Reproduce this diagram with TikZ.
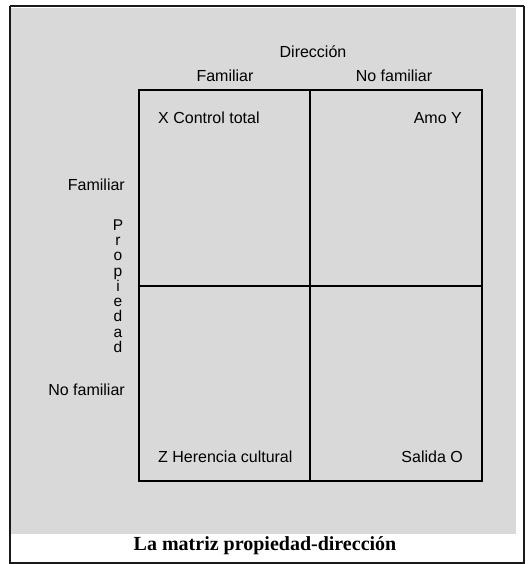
\documentclass[tikz,border=0pt]{standalone}
\usepackage{fontspec}
\setmainfont{Liberation Serif}
\setsansfont{Liberation Sans}
\usepackage{xcolor}
\usetikzlibrary{positioning}

\definecolor{pagegray}{RGB}{217,217,217}

\begin{document}
\begin{tikzpicture}[
  x=1pt, y=-1pt,
  font=\sffamily\fontsize{16}{18}\selectfont,
  grid/.style={draw=black, line width=1.4pt},
  frame/.style={draw=black!90, line width=1.8pt},
  lbl/.style={inner sep=0pt, text=black},
  cell/.style={lbl},
  caption/.style={inner sep=0pt, font=\rmfamily\bfseries\fontsize{20}{22}\selectfont}
]
  \useasboundingbox (0,0) rectangle (527,564);

  %% page
  \fill[pagegray] (11,8) rectangle (516,534);
  \draw[frame] (10,6) -- (10,563) -- (524,563) -- (524,6);
  \draw[frame] (10,6) -- (524,6);

  %% matrix
  \draw[grid] (139,90) rectangle (482,481);
  \draw[grid] (310,90) -- (310,481);
  \draw[grid] (139,286) -- (482,286);

  %% column heads
  \node[lbl] (dir) at (313,52) {Dirección};
  \node[lbl] (cfam) at (225,76) {Familiar};
  \node[lbl] (cnof) at (394,76) {No familiar};

  %% row heads
  \node[lbl, anchor=east] (rfam) at (125,185) {Familiar};
  \node[lbl, anchor=east] (rnof) at (125,390) {No familiar};
  \node[lbl, align=center, font=\sffamily\fontsize{15.5}{15.25}\selectfont] (prop) at (118,286)
    {P\\r\\o\\p\\i\\e\\d\\a\\d};

  %% cells
  \node[cell, anchor=west] (x) at (158,118) {X Control total};
  \node[cell, anchor=east] (y) at (462,118) {Amo Y};
  \node[cell, anchor=west] (z) at (158,457) {Z Herencia cultural};
  \node[cell, anchor=east] (o) at (463,457) {Salida O};

  %% caption
  \node[caption] (cap) at (265,546) {La matriz propiedad-dirección};
\end{tikzpicture}
\end{document}
